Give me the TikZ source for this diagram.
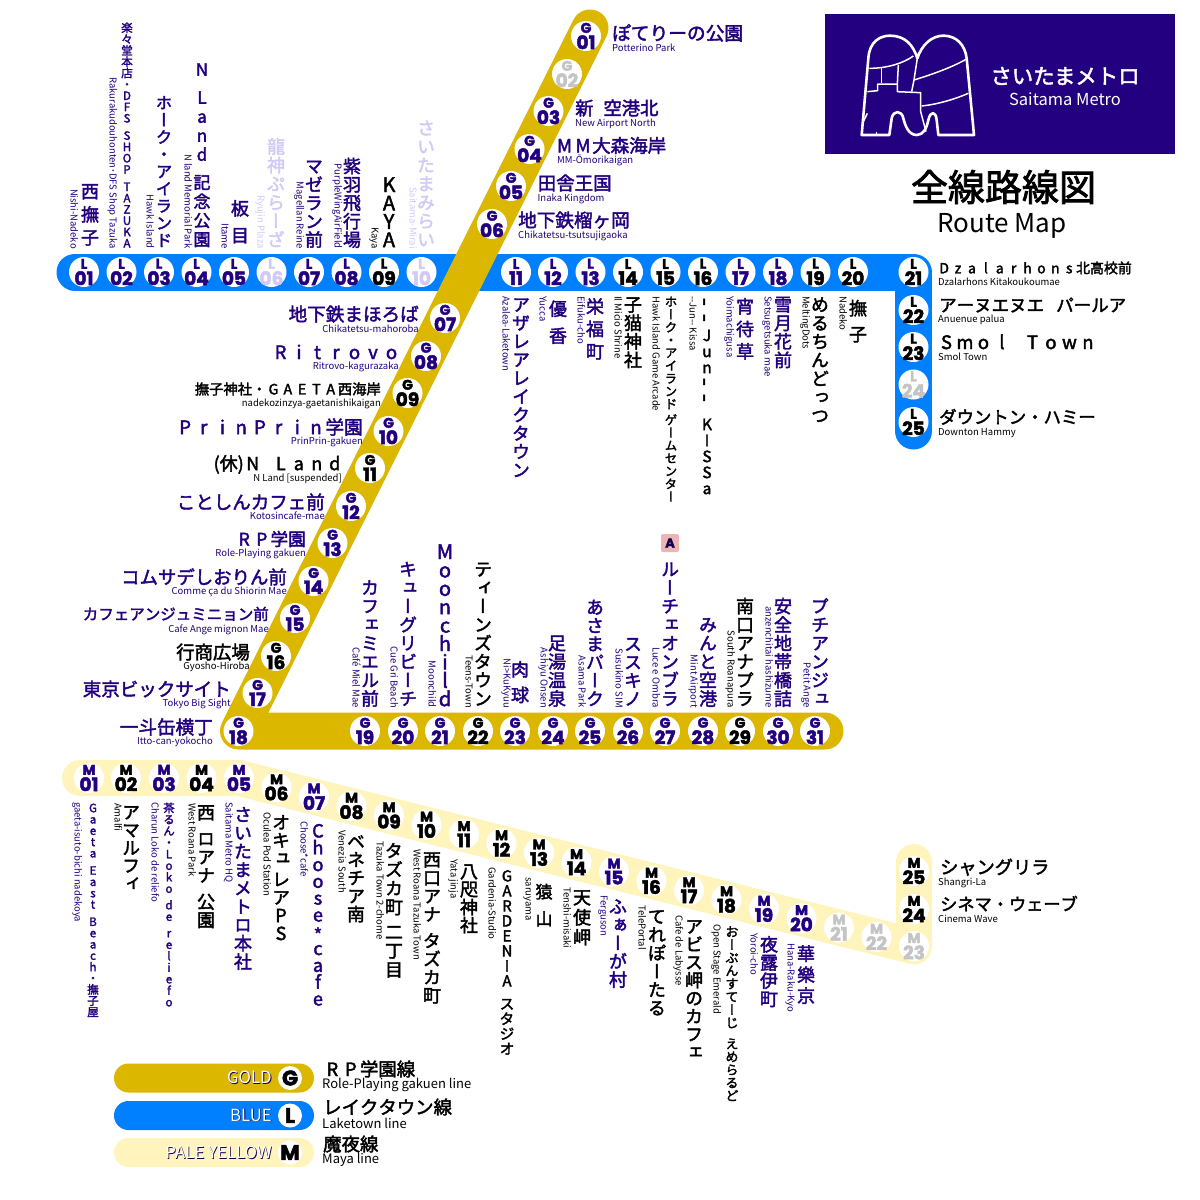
\documentclass[tikz,border=0pt]{standalone}
\usepackage{fontspec}
\usepackage{xcolor}
\usepackage{tikz}
\usetikzlibrary{backgrounds}
\setmainfont{Noto Sans CJK JP}
\newfontfamily\jpf{Noto Sans CJK JP}[FakeBold=2.2]
\newfontfamily\jpv{Noto Sans CJK JP}[FakeBold=2.2,RawFeature=+vert]
\newfontfamily\subf{Noto Sans CJK JP}
\newfontfamily\codef{Poppins}[BoldFeatures={FakeBold=2.5}]
\definecolor{ink}{HTML}{22007F}
\definecolor{lilac}{HTML}{D2CAF5}
\definecolor{offgray}{HTML}{C4C4C4}
\definecolor{lineGold}{HTML}{DCB700}
\definecolor{lineBlue}{HTML}{0080FF}
\definecolor{linePale}{HTML}{FFF4BC}
\definecolor{badgePink}{HTML}{EBB5B5}
\makeatletter
\def\tgap{}
\def\tgapname{\tgap}
\def\tatebar{\raisebox{.2em}{\rotatebox{90}{\scalebox{1.5}{-}}}}
% stacked text: gap, size, pitch, text
\newcommand{\tate}[4]{\vbox{\offinterlineskip\jpv\fontsize{#2}{#2}\selectfont
  \@tfor\tatec:=#4\do{\ifx\tatec\tgapname\vskip#1pt\else
    \vbox to #3pt{\vss\hbox to 1.2em{\hss\rule{0pt}{.88em}\rule[-.12em]{0pt}{.12em}\tatec\hss}\vss}\fi}}}
% one em per sign: gap, size, text
\newcommand{\yoko}[3]{\hbox{\jpf\fontsize{#2}{#2}\selectfont
  \@tfor\tatec:=#3\do{\ifx\tatec\tgapname\hskip#1pt\else
    \hbox to 1em{\hss\rule{0pt}{.88em}\rule[-.12em]{0pt}{.12em}\tatec\hss}\fi}}}
\makeatother
\newcommand{\stnmark}[2]{\vbox{\offinterlineskip\codef\bfseries
  \hbox to 14pt{\hss\fontsize{14}{14}\selectfont #1\hss}\vskip2.5pt
  \hbox to 14pt{\hss\fontsize{18.5}{18.5}\selectfont #2\hss}}}
\newcommand{\stn}[5]{\node[stn,text=#5] (#1#2) at ({#3},{#4}) {\stnmark{#1}{#2}};}
\newcommand{\vn}[7][5]{\node[vname,text=#6] (#2n) at (#3) {\tate{#1}{#4}{#5}{#7}};}
\newcommand{\vs}[4]{\node[vsub,text=#3] (#1s) at (#2) {#4};}
\newcommand{\hn}[6][5]{\node[hname,text=#5] (#2n) at (#3) {\yoko{#1}{#4}{#6}};}
\newcommand{\hs}[4]{\node[hsub,text=#3] (#1s) at (#2) {#4};}
\newcommand{\shadowed}[1]{\rlap{\hspace{.8pt}\raisebox{-.8pt}{\textcolor{ink!60!black}{#1}}}\textcolor{white}{#1}}
\tikzset{
    stn/.style={circle, fill=white, inner sep=0pt, minimum size=30pt},
    routeline/.style={line width=37pt, line cap=round, line join=round},
    vname/.style={inner sep=0pt, anchor=south},
    hname/.style={inner sep=0pt, anchor=west},
    subtext/.style={inner sep=0pt, font=\subf\fontsize{9.5}{9.5}\selectfont, text height=7.5pt, text depth=2.5pt},
    vsub/.style={subtext, rotate=-90, anchor=east},
    hsub/.style={subtext, anchor=west, text depth=0.5pt},
    pill/.style={minimum width=200pt, minimum height=29pt, rounded corners=14.5pt, inner sep=0pt},
    pillmark/.style={circle, fill=white, inner sep=0pt, minimum size=24pt, font=\codef\bfseries\fontsize{21}{21}\selectfont},
    pilltext/.style={inner sep=0pt, anchor=east, font=\subf\fontsize{16.8}{16.8}\selectfont},
    legname/.style={inner sep=0pt, anchor=west},
    legsub/.style={inner sep=0pt, anchor=west, font=\subf\fontsize{13}{13}\selectfont}
}
\begin{document}
\begin{tikzpicture}[x=1pt, y=-1pt]
    \useasboundingbox (0,0) rectangle (1200,1200);

    % stations
    \foreach \n/\x/\c in {01/84/ink,02/121.5/ink,03/159/ink,04/196.5/ink,05/234/ink,06/271.5/lilac,07/309/ink,08/346.5/ink,09/384/black,10/421.5/lilac,
        11/516/ink,12/553/ink,13/590.5/ink,14/628/black,15/665.5/black,16/703/black,17/740.5/ink,18/778/ink,19/815.5/black,20/853/black,21/913.5/black}
        {\stn{L}{\n}{\x}{272}{\c}}
    \foreach \n/\y/\c in {22/310/black,23/347/black,24/384.5/offgray,25/422/black}
        {\stn{L}{\n}{913.5}{\y}{\c}}
    \foreach \n/\y/\c in {01/36/ink,02/74/offgray,03/111/ink,04/149/ink,05/186/ink,06/224/ink,07/318/ink,08/356/ink,09/393/black,
        10/431/ink,11/468/black,12/506/ink,13/543/ink,14/581/ink,15/618/ink,16/656/black,17/693/ink,18/731/ink}
        {\stn{G}{\n}{586-(\y-36)/2}{\y}{\c}}
    \foreach \n/\x/\c in {19/365/ink,20/403/ink,21/440/ink,22/478/black,23/515/ink,24/553/ink,25/590/ink,26/628/ink,
        27/665/ink,28/703/ink,29/740/black,30/778/ink,31/815/ink}
        {\stn{G}{\n}{\x}{731}{\c}}
    \foreach \n/\x/\c in {01/89/ink,02/126/black,03/164/ink,04/201.5/black,05/239/ink}
        {\stn{M}{\n}{\x}{778}{\c}}
    \foreach \n/\x/\c in {06/276.5/black,07/314/ink,08/351.5/black,09/389/black,10/426.5/black,11/464/black,12/501.5/black,13/539/black,
        14/576.5/black,15/614/ink,16/651.5/black,17/689/black,18/726.5/black,19/764/ink,20/801.5/ink,21/839/offgray,22/876.5/offgray,23/914/offgray}
        {\stn{M}{\n}{\x}{778+(\x-239)*0.2493}{\c}}
    \stn{M}{24}{914}{909}{black}
    \stn{M}{25}{914}{871}{black}

    % route lines go under the stations
    \coordinate (blueA) at (75,272);
    \coordinate (blueB) at (913.5,272);
    \coordinate (blueC) at (913.5,431);
    \coordinate (goldA) at (590,28);
    \coordinate (goldB) at (825,731);
    \coordinate (paleA) at (80,778);
    \coordinate (paleB) at (914,862);
    \begin{scope}[on background layer]
        \draw[routeline, lineBlue] (blueA) -- (blueB) -- (blueC);
        \draw[routeline, lineGold] (goldA) -- (G18.center) -- (goldB);
        \draw[routeline, linePale, line width=36pt] (paleA) -- (M05.center) -- (M23.center) -- (paleB);
    \end{scope}

    % blue line, above
    \vn{L01}{90,249}{18}{23}{ink}{西撫子} \vs{L01}{73,249}{ink}{Nishi-Nadeko}
    \vn[6]{L02}{127,249}{11.5}{11.3}{ink}{楽々堂本店・DFS\tgap SHOP\tgap TAZUKA} \vs{L02}{112,249}{ink}{Rakurakudouhonten･DFS Shop Tazuka}
    \vn{L03}{164,249}{16.5}{17.2}{ink}{ホーク・アイランド} \vs{L03}{149,249}{ink}{Hawk Island}
    \vn[9]{L04}{202,249}{17}{19}{ink}{N\tgap Land\tgap 記念公園} \vs{L04}{187,249}{ink}{N land Memorial Park}
    \vn{L05}{240,249}{18}{27}{ink}{板目} \vs{L05}{224,249}{ink}{Itame}
    \vn{L06}{276,249}{18}{18.6}{lilac}{龍神ぷらーざ} \vs{L06}{260,249}{lilac}{Ryujin Plaza}
    \vn{L07}{314,249}{18}{18.4}{ink}{マゼラン前} \vs{L07}{299,249}{ink}{Magellan Reine}
    \vn{L08}{352,249}{18}{18.4}{ink}{紫羽飛行場} \vs{L08}{337,249}{ink}{PurpleWingAirField}
    \vn{L09}{389,249}{20}{18.4}{black}{KAYA} \vs{L09}{374,249}{black}{Kaya}
    \vn{L10}{426,249}{18}{18.6}{lilac}{さいたまみらい} \vs{L10}{412,249}{lilac}{Saitama-Mirai}

    % gold line, bottom row
    \vn{G19}{370,708}{18}{18.5}{ink}{カフェミエル前} \vs{G19}{355,708}{ink}{Café Miel Mae}
    \vn{G20}{408,708}{18}{18.5}{ink}{キューグリビーチ} \vs{G20}{393,708}{ink}{Cue Gri Beach}
    \vn{G21}{445,708}{20}{18.4}{ink}{Moonchild} \vs{G21}{431,708}{ink}{Moonchild}
    \vn{G22}{483,708}{18}{18.5}{black}{ティーンズタウン} \vs{G22}{468,708}{black}{Teens-Town}
    \vn{G23}{520,708}{18}{25.7}{ink}{肉球} \vs{G23}{506,708}{ink}{Ni>KuKyuu}
    \vn{G24}{557,708}{18}{18.5}{ink}{足湯温泉} \vs{G24}{543,708}{ink}{Ashiyu Onsen}
    \vn{G25}{595,708}{18}{18.3}{ink}{あさまパーク} \vs{G25}{581,708}{ink}{Asama Park}
    \vn{G26}{633,708}{18}{18.3}{ink}{ススキノ} \vs{G26}{618,708}{ink}{Susukino SIM}
    \vn{G27}{670,708}{18}{18.5}{ink}{ルーチェオンブラ} \vs{G27}{655,708}{ink}{Luce e Ombra}
    \vn{G28}{708,708}{18}{18.5}{ink}{みんと空港} \vs{G28}{693,708}{ink}{Mint Airport}
    \vn{G29}{745,708}{18}{18.5}{black}{南口アナプラ} \vs{G29}{730,708}{black}{South Roanapura}
    \vn{G30}{783,708}{18}{18.5}{ink}{安全地帯橋詰} \vs{G30}{768,708}{ink}{anzenchitai hashizume}
    \vn{G31}{820,708}{18}{18.5}{ink}{プチアンジュ} \vs{G31}{806,708}{ink}{Petit Ange}
    \node[fill=badgePink, rounded corners=2pt, minimum size=18pt, inner sep=0pt, text=ink!60!black, font=\codef\bfseries\fontsize{13}{13}\selectfont] (G27a) at (670,543) {A};

    % below the blue line and the pale line
    \begin{scope}[vname/.append style={anchor=north}, vsub/.append style={anchor=west}]
        \vn{L11}{521,295}{18}{18.4}{ink}{アザレアレイクタウン} \vs{L11}{505,296}{ink}{Azalea-Laketown}
        \vn{L12}{558,295}{18}{27}{ink}{優香} \vs{L12}{542,296}{ink}{Yucca}
        \vn{L13}{595,295}{18}{22.5}{ink}{栄福町} \vs{L13}{580,296}{ink}{Eifuku-cho}
        \vn{L14}{633,295}{18}{18.5}{black}{子猫神社} \vs{L14}{617,296}{black}{Il Micio Shrine}
        \vn[3]{L15}{671,295}{12.5}{12.8}{black}{ホーク・アイランド\tgap ゲームセンター} \vs{L15}{655,296}{black}{Hawk Island Game Arcade}
        \vn[9]{L16}{707,295}{15.5}{16}{black}{\tatebar\tatebar Jun\tatebar\tatebar\tgap KISSa} \vs{L16}{692,296}{black}{--Jun-- Kissa}
        \vn{L17}{745,295}{18}{22.5}{ink}{宵待草} \vs{L17}{729,296}{ink}{Yoimachigusa}
        \vn{L18}{783,295}{18}{18.5}{ink}{雪月花前} \vs{L18}{767,296}{ink}{Setsugetsuka mae}
        \vn{L19}{820,295}{18}{18.5}{black}{めるちんどっつ} \vs{L19}{805,296}{black}{MeltingDots}
        \vn{L20}{858,295}{18}{26}{black}{撫子} \vs{L20}{842,296}{black}{Nadeko}

        \vn[6]{M01}{93,802}{11.5}{11.3}{ink}{Gaeta\tgap East\tgap Beach・撫子屋} \vs{M01}{77,802}{ink}{gaeta-isuto-bichi nadekoya}
        \vn{M02}{131,803}{18}{17.8}{black}{アマルフィ} \vs{M02}{117,803}{black}{Amalfi}
        \vn{M03}{169,802}{11.5}{11.5}{ink}{茶るん・Loko\tgap de\tgap reliefo} \vs{M03}{154,802}{ink}{Charun Loko de reliefo}
        \vn[8]{M04}{206,803}{18}{18.3}{black}{西\tgap ロアナ\tgap 公園} \vs{M04}{191,803}{black}{West Roana Park}
        \vn{M05}{243,805}{18}{18.4}{ink}{さいたまメトロ本社} \vs{M05}{228,802}{ink}{Saitama Metro HQ}
        \vn[3]{M06}{281,813}{18}{18}{black}{オキュ\tgap レアPS} \vs{M06}{266,812}{black}{Oculea Pod Station}
        \vn{M07}{318,822}{18}{16.8}{ink}{Choose{\raisebox{-.25em}{*}}cafe} \vs{M07}{303,821}{ink}{Choose*cafe}
        \vn{M08}{356,832}{18}{18.2}{black}{ベネチア南} \vs{M08}{341,830}{black}{Venezia South}
        \vn[6]{M09}{394,841}{18}{18.8}{black}{タズカ町\tgap 二丁目} \vs{M09}{379,841}{black}{Tazuka Town 2-chome}
        \vn[8]{M10}{432,850}{18}{18.3}{black}{西口アナ\tgap タズカ町} \vs{M10}{416,849}{black}{West Roana Tazuka Town}
        \vn{M11}{469,862}{18}{18}{black}{八咫神社} \vs{M11}{453,859}{black}{Yata jinja}
        \vn[8]{M12}{507,868}{15}{15}{black}{GARDENIA\tgap スタジオ} \vs{M12}{491,867}{black}{Gardenia-Studio}
        \vn{M13}{544,878}{17}{27}{black}{猿山} \vs{M13}{528,877}{black}{saruyama}
        \vn{M14}{582,887}{18}{20}{black}{天使岬} \vs{M14}{566,887}{black}{Tenshi-misaki}
        \vn{M15}{618,897}{18}{18.3}{ink}{ふぁーが村} \vs{M15}{603,895}{ink}{Ferguson}
        \vn{M16}{657,907}{18}{18.3}{black}{てれぽーたる} \vs{M16}{641,905}{black}{TelePortal}
        \vn{M17}{694,917}{18}{18}{black}{アビス岬のカフェ} \vs{M17}{678,915}{black}{Cafe de Labysse}
        \vn[8]{M18}{732,925}{13}{13}{black}{おーぷんすてーじ\tgap えめらるど} \vs{M18}{716,924}{black}{Open Stage Emerald}
        \vn{M19}{769,935}{18}{18.2}{ink}{夜露伊町} \vs{M19}{753,933}{ink}{Yoroi-cho}
        \vn{M20}{806,943}{18}{21}{ink}{華樂京} \vs{M20}{790,943}{ink}{Hana-Raku-Kyo}
    \end{scope}

    % right of the lines
    \hn{G01}{612,33}{18.7}{ink}{ぽてりーの公園} \hs{G01}{612,47.5}{ink}{Potterino Park}
    \hn[10]{G03}{575,108}{18.3}{ink}{新\tgap 空港北} \hs{G03}{575,122.5}{ink}{New Airport North}
    \hn{G04}{555,145.5}{18.5}{ink}{MM大森海岸} \hs{G04}{557,160}{ink}{MM-Ōmorikaigan}
    \hn{G05}{537.5,183}{18.5}{ink}{田舎王国} \hs{G05}{537.5,197.5}{ink}{Inaka Kingdom}
    \hn{G06}{518,220}{18.6}{ink}{地下鉄榴ヶ岡} \hs{G06}{518,235}{ink}{Chikatetsu-tsutsujigaoka}
    \hn{L21}{937,268}{13.9}{black}{Dzalarhons北高校前} \hs{L21}{938,282}{black}{Dzalarhons Kitakoukoumae}
    \hn[12]{L22}{939,305}{17.5}{black}{アーヌエヌエ\tgap パールア} \hs{L22}{938,319}{black}{Anuenue palua}
    \hn[12]{L23}{937,342}{18.5}{black}{Smol\tgap Town} \hs{L23}{938,357}{black}{Smol Town}
    \hn{L25}{939,417}{17.4}{black}{ダウントン・ハミー} \hs{L25}{938,432}{black}{Downton Hammy}
    \hn{M25}{940,867}{18.2}{black}{シャングリラ} \hs{M25}{938,882}{black}{Shangri-La}
    \hn{M24}{940,904}{17.2}{black}{シネマ・ウェーブ} \hs{M24}{938,919}{black}{Cinema Wave}

    % left of the gold line
    \begin{scope}[hname/.append style={anchor=east}, hsub/.append style={anchor=east}]
        \hn{G07}{419,314}{18.6}{ink}{地下鉄まほろば} \hs{G07}{419,329}{ink}{Chikatetsu-mahoroba}
        \hn{G08}{401,352}{18.5}{ink}{Ritrovo} \hs{G08}{399,366}{ink}{Ritrovo-kagurazaka}
        \hn{G09}{381,389}{14.3}{black}{撫子神社・GAETA西海岸} \hs{G09}{381,403}{black}{nadekozinzya-gaetanishikaigan}
        \hn{G10}{363,427}{18.7}{ink}{PrinPrin学園} \hs{G10}{363,441}{ink}{PrinPrin-gakuen}
        \node[hname, text=black] (G11n) at (344,464) {\jpf\fontsize{18}{18}\selectfont (休)\yoko{10}{18}{N\tgap Land}};
        \hs{G11}{342,478}{black}{N Land [suspended]}
        \hn{G12}{325,502}{18.5}{ink}{ことしんカフェ前} \hs{G12}{325,516}{ink}{Kotosincafe-mae}
        \hn{G13}{306,539}{17.6}{ink}{RP学園} \hs{G13}{306,553}{ink}{Role-Playing gakuen}
        \hn{G14}{287,577}{18.4}{ink}{コムサデしおりん前} \hs{G14}{287,591}{ink}{Comme ça du Shiorin Mae}
        \hn{G15}{269,614}{15.5}{ink}{カフェアンジュミニョン前} \hs{G15}{269,629}{ink}{Cafe Ange mignon Mae}
        \hn{G16}{250,652}{18.4}{black}{行商広場} \hs{G16}{250,666}{black}{Gyosho-Hiroba}
        \hn{G17}{231,689}{18.5}{ink}{東京ビックサイト} \hs{G17}{231,703}{ink}{Tokyo Big Sight}
        \hn{G18}{213,727}{18.6}{ink}{一斗缶横丁} \hs{G18}{213,741}{ink}{Itto-can-yokocho}
    \end{scope}

    % title block
    \node[fill=ink, minimum width=350pt, minimum height=140pt, inner sep=0pt] (logobox) at (1000,84) {};
    \node[inner sep=0pt, text=white, font=\jpf\fontsize{21.4}{21.4}\selectfont] (logoname) at (1065,76) {さいたまメトロ};
    \node[inner sep=0pt, text=white, font=\subf\fontsize{16.5}{16.5}\selectfont] (logosub) at (1065,99) {Saitama Metro};
    \begin{scope}[shift={(810,0)}, x=1/3*1pt, y=-1/3*1pt, white, line width=1.5pt, line join=round]
        \draw[line width=2.6pt] (155,405) -- (175,175) .. controls (178,125) and (210,107) .. (240,107)
            .. controls (285,107) and (310,135) .. (322,175) .. controls (335,135) and (365,107) .. (400,107)
            .. controls (440,107) and (465,135) .. (470,175) -- (492,405) -- (385,405) -- (380,360)
            .. controls (378,335) and (362,330) .. (355,360) .. controls (350,385) and (340,405) .. (320,405)
            .. controls (295,405) and (285,375) .. (280,355) .. controls (275,330) and (250,330) .. (245,355)
            -- (238,405) -- cycle;
        \draw (178,205) .. controls (230,205) and (280,190) .. (310,168);
        \draw (215,205) -- (215,250);
        \draw (265,195) -- (262,252);
        \draw (172,275) -- (203,272) -- (203,252) -- (262,252) -- (262,275) -- (332,278) -- (332,335) -- (348,395);
        \draw (335,318) .. controls (390,312) and (440,295) .. (475,280);
        \draw (312,240) .. controls (360,225) and (420,205) .. (468,178);
        \draw (322,175) -- (312,240) -- (305,275);
        \draw (172,340) -- (160,365);
        \draw (200,395) -- (200,405);
    \end{scope}
    \node[inner sep=0pt, font=\jpf\fontsize{37}{37}\selectfont] (mapjp) at (1003.5,187) {全線路線図};
    \node[inner sep=0pt, font=\subf\fontsize{26}{26}\selectfont] (mapen) at (1002,226) {Route Map};

    % legend
    \node[pill, fill=lineGold] (legG) at (214,1078) {};
    \node[pill, fill=lineBlue] (legL) at (214,1115.5) {};
    \node[pill, fill=linePale] (legM) at (214,1152.5) {};
    \node[pillmark] (legGm) at (290,1078) {G};
    \node[pillmark] (legLm) at (290,1115.5) {L};
    \node[pillmark] (legMm) at (290,1152.5) {M};
    \node[pilltext] (legGt) at (272,1078) {\shadowed{GOLD}};
    \node[pilltext] (legLt) at (272,1115.5) {\shadowed{BLUE}};
    \node[pilltext] (legMt) at (272,1152.5) {\shadowed{PALE YELLOW}};
    \node[legname] (legGn) at (323,1069) {\yoko{0}{18.4}{RP学園線}};
    \node[legsub] (legGs) at (322,1085) {Role-Playing gakuen line};
    \node[legname] (legLn) at (323,1107) {\yoko{0}{18.4}{レイクタウン線}};
    \node[legsub] (legLs) at (322,1123) {Laketown line};
    \node[legname] (legMn) at (323,1144) {\yoko{0}{18.4}{魔夜線}};
    \node[legsub] (legMs) at (322,1160) {Maya line};
\end{tikzpicture}
\end{document}
